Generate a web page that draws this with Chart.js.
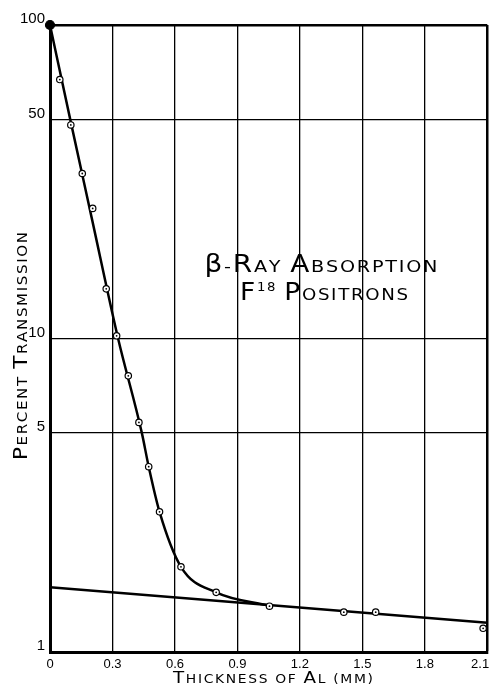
<!DOCTYPE html>
<html>
<head>
<meta charset="utf-8">
<script src="https://cdn.jsdelivr.net/npm/chart.js@4/dist/chart.umd.min.js"></script>
<style>
  html, body { margin: 0; padding: 0; background: #fff; }
  #wrap { width: 493px; height: 687px; position: relative; }
</style>
</head>
<body>
<div id="wrap"><canvas id="chart"></canvas></div>
<script>
// measured points (thickness in mm, percent transmission)
const thickness = [0, 0.047, 0.10, 0.155, 0.205, 0.27, 0.32, 0.376, 0.427, 0.474, 0.526, 0.629, 0.798, 1.054, 1.411, 1.564, 2.08];
const transmission = [100, 67, 48, 33.6, 26.0, 14.4, 10.2, 7.6, 5.4, 3.9, 2.8, 1.87, 1.55, 1.40, 1.34, 1.34, 1.19];

// hand-drawn fit curve
const fitThickness = [0, 0.1, 0.2, 0.327, 0.441, 0.474, 0.526, 0.629, 0.798, 1.054];
const fitTransmission = [100, 49, 24.3, 10, 5, 3.9, 2.8, 1.87, 1.55, 1.405];

// gamma background line
const bgThickness = [0, 2.1];
const bgTransmission = [1.61, 1.24];

const xTicks = [0, 0.3, 0.6, 0.9, 1.2, 1.5, 1.8, 2.1];
const yTicks = [1, 5, 10, 50, 100];

const toXY = (xs, ys) => xs.map((x, i) => ({x: x, y: ys[i]}));

// draws small-caps text, stretched horizontally to a given width
function drawCaps(ctx, parts, cx, baseline, width, family) {
  const chars = [];
  parts.forEach(p => {
    for (const ch of p.t) chars.push({ch: ch, size: p.size, dy: p.dy || 0});
  });
  const space = 1.5;
  let natural = 0;
  chars.forEach(c => {
    ctx.font = c.size + 'px "' + family + '"';
    c.w = ctx.measureText(c.ch).width;
    natural += c.w;
  });
  natural += space * (chars.length - 1);
  const sx = width / natural;
  ctx.save();
  ctx.translate(cx - width / 2, baseline);
  ctx.scale(sx, 1);
  ctx.textAlign = 'left';
  ctx.textBaseline = 'alphabetic';
  let x = 0;
  chars.forEach(c => {
    ctx.font = c.size + 'px "' + family + '"';
    ctx.fillText(c.ch, x, c.dy);
    x += c.w + space;
  });
  ctx.restore();
}

function capsParts(text, big, small) {
  const parts = [];
  for (const ch of text) {
    if (ch === 'β' || (ch >= 'A' && ch <= 'Z')) parts.push({t: ch, size: big});
    else parts.push({t: ch.toUpperCase(), size: small});
  }
  return parts;
}

const labelsPlugin = {
  id: 'labels',
  afterDraw(chart) {
    const ctx = chart.ctx;
    ctx.save();
    ctx.fillStyle = '#000';
    const fam = 'DejaVu Sans';

    drawCaps(ctx, capsParts('β-Ray Absorption', 24, 16.5), 321, 272, 233, fam);
    const line2 = [{t: 'F', size: 24}, {t: '18', size: 12, dy: -9}, {t: ' ', size: 16}]
      .concat(capsParts('Positrons', 24, 16.5));
    drawCaps(ctx, line2, 324, 300, 168, fam);

    // x axis title
    drawCaps(ctx, capsParts('Thickness of Al (mm)', 16.5, 12.5), 273, 683, 200, fam);

    // y axis title
    ctx.translate(27, 346);
    ctx.rotate(-Math.PI / 2);
    drawCaps(ctx, capsParts('Percent Transmission', 20, 14), 0, 0, 228, fam);
    ctx.restore();
  }
};

const ctx = document.getElementById('chart').getContext('2d');

const chart = new Chart(ctx, {
  type: 'scatter',
  data: {
    datasets: [
      {
        // centre dots of the circles
        data: toXY(thickness, transmission),
        pointRadius: 0.9,
        pointBackgroundColor: '#000',
        pointBorderWidth: 0,
        clip: false,
        order: 0
      },
      {
        data: toXY(thickness, transmission),
        pointRadius: c => c.dataIndex === 0 ? 4.5 : 3.2,
        pointBackgroundColor: c => c.dataIndex === 0 ? '#000' : '#fff',
        pointBorderColor: '#000',
        pointBorderWidth: 1.2,
        clip: false,
        order: 1
      },
      {
        data: toXY(fitThickness, fitTransmission),
        showLine: true,
        borderColor: '#000',
        borderWidth: 2.5,
        pointRadius: 0,
        cubicInterpolationMode: 'monotone',
        fill: false,
        order: 2
      },
      {
        data: toXY(bgThickness, bgTransmission),
        showLine: true,
        borderColor: '#000',
        borderWidth: 2.5,
        pointRadius: 0,
        fill: false,
        order: 3
      }
    ]
  },
  options: {
    responsive: true,
    maintainAspectRatio: false,
    animation: false,
    events: [],
    layout: {
      padding: {top: 25, right: 3, left: 0, bottom: 0}
    },
    plugins: {
      legend: {display: false},
      tooltip: {enabled: false},
      title: {display: false}
    },
    scales: {
      x: {
        type: 'linear',
        min: 0,
        max: 2.1,
        afterBuildTicks: scale => {
          scale.ticks = xTicks.map(v => ({value: v}));
        },
        afterFit: scale => {
          scale.height = 35;
          scale.paddingLeft = 0;
          scale.paddingRight = 0;
        },
        ticks: {
          color: '#000',
          padding: 5,
          maxRotation: 0,
          autoSkip: false,
          font: {family: 'Liberation Sans', size: 13},
          callback: v => {
            if (v === 0) return '0';
            if (v === 2.1) return '2.1    ';
            return v.toFixed(1);
          }
        },
        grid: {
          color: '#000',
          drawTicks: false,
          lineWidth: c => (c.tick && c.tick.value === 2.1) ? 2.5 : 1.3
        },
        border: {color: '#000', width: 3}
      },
      y: {
        type: 'logarithmic',
        min: 1,
        max: 100,
        afterBuildTicks: scale => {
          scale.ticks = yTicks.map(v => ({value: v}));
        },
        afterFit: scale => {
          scale.width = 50;
          scale.paddingTop = 0;
          scale.paddingBottom = 0;
        },
        ticks: {
          color: '#000',
          padding: 5,
          labelOffset: -6,
          autoSkip: false,
          font: {family: 'Liberation Sans', size: 15},
          callback: v => String(v)
        },
        grid: {
          color: '#000',
          drawTicks: false,
          lineWidth: c => (c.tick && c.tick.value === 100) ? 2.5 : 1.3
        },
        border: {color: '#000', width: 3}
      }
    }
  },
  plugins: [labelsPlugin]
});
</script>
</body>
</html>
